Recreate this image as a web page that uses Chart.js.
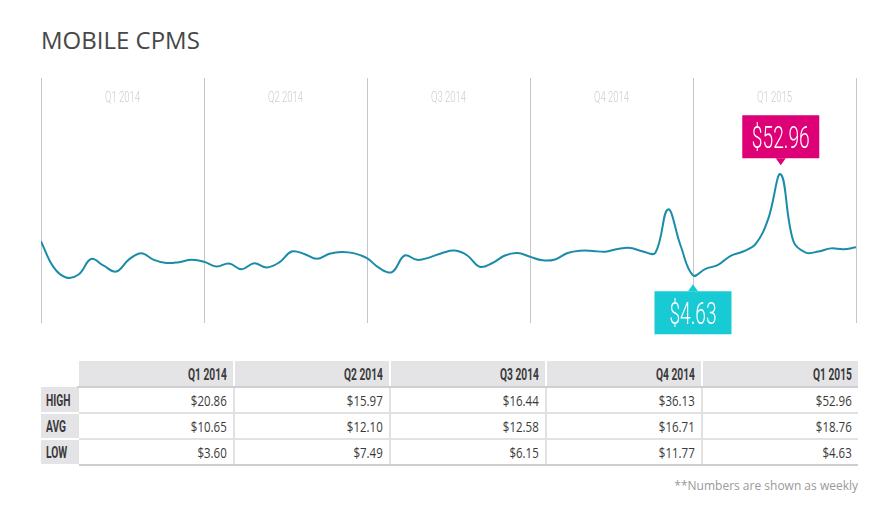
<!DOCTYPE html>
<html>
<head>
<meta charset="utf-8">
<script src="https://cdn.jsdelivr.net/npm/chart.js@4"></script>
<style>
  html, body { margin:0; padding:0; background:#fff; }
  body { width:894px; height:512px; position:relative; overflow:hidden; font-family:"Open Sans", sans-serif; }
  #title { position:absolute; left:41px; top:28px; font-size:24px; line-height:24px; color:#474747; font-family:"Open Sans", sans-serif; }
  #wrap { position:absolute; left:0; top:0; width:894px; height:345px; }
  table { position:absolute; left:41px; top:361px; border-collapse:collapse; table-layout:fixed; width:817px; }
  td, th { height:26px; padding:0; box-sizing:border-box; vertical-align:middle; }
  th.q { background:#e4e4e6; text-align:right; padding-right:6px; border-left:2px solid #fff; border-bottom:2px solid #cfcfd1; }
  th.q span { display:inline-block; font-family:Roboto, sans-serif; font-weight:700; font-size:16px; color:#3a3a3a; transform:scaleX(0.64); transform-origin:right center; }
  th.r { background:#e4e4e6; text-align:left; padding-left:5px; border-bottom:2px solid #fff; }
  th.r span { display:inline-block; font-family:Roboto, sans-serif; font-weight:700; font-size:16px; color:#3a3a3a; transform:scaleX(0.64); transform-origin:left center; }
  td.v { text-align:right; padding-right:6px; border-left:2px solid #e2e2e2; border-bottom:2px solid #e2e2e2; }
  td.v span { display:inline-block; font-family:"Open Sans", sans-serif; font-size:14px; color:#3a3a3a; transform:scaleX(0.82); transform-origin:right center; }
  tr.last td.v { border-bottom:2px solid #cfcfcf; }
  #note { position:absolute; right:36px; top:480px; font-size:12px; line-height:12px; color:#9a9a9a; font-family:"Open Sans", sans-serif; }
</style>
</head>
<body>
<div id="title">MOBILE CPMS</div>
<div id="wrap"><canvas id="c"></canvas></div>
<table id="tbl"></table>
<div id="note">**Numbers are shown as weekly</div>
<script>
// ---- data ----
const quarterLabels = ["Q1 2014", "Q2 2014", "Q3 2014", "Q4 2014", "Q1 2015"];
const rowLabels = ["HIGH", "AVG", "LOW"];
const highValues = [20.86, 15.97, 16.44, 36.13, 52.96];
const avgValues  = [10.65, 12.10, 12.58, 16.71, 18.76];
const lowValues  = [3.60, 7.49, 6.15, 11.77, 4.63];
const weeksPerQuarter = 13;
// weekly CPM values (week 0 .. 65)
const weeklyCPM = [
  20.86, 8.5, 3.60, 5.0, 12.4, 9.2, 6.4, 12.1, 15.2, 12.0, 10.5, 10.9, 12.0,
  11.1, 8.8, 10.3, 7.49, 10.4, 8.4, 10.8, 15.97, 14.8, 12.5, 14.9, 15.8, 15.1,
  12.8, 8.0, 6.15, 14.1, 12.0, 13.2, 15.3, 16.44, 14.1, 8.7, 10.5, 14.1, 15.3,
  13.5, 11.77, 12.2, 15.3, 16.4, 16.3, 15.9, 17.2, 17.7, 16.0, 15.45, 36.13, 19.0,
  4.63, 7.7, 9.6, 13.9, 16.0, 19.6, 31.6, 52.96, 21.0, 15.5, 16.0, 17.5, 17.1,
  18.0
];
const weeks = weeklyCPM.map((v, i) => i);

// ---- table ----
(function buildTable(){
  const t = document.getElementById('tbl');
  let html = '<colgroup><col style="width:37px">' + quarterLabels.map(() => '<col style="width:156px">').join('') + '</colgroup>';
  html += '<tr><td></td>' + quarterLabels.map(q => '<th class="q"><span>' + q + '</span></th>').join('') + '</tr>';
  const rows = [highValues, avgValues, lowValues];
  rows.forEach((vals, r) => {
    html += '<tr' + (r === rows.length - 1 ? ' class="last"' : '') + '><th class="r"><span>' + rowLabels[r] + '</span></th>' +
      vals.map(v => '<td class="v"><span>$' + v.toFixed(2) + '</span></td>').join('') + '</tr>';
  });
  t.innerHTML = html;
})();

// ---- chart ----
const lastQ = quarterLabels.length - 1;
const peakIdx = weeklyCPM.indexOf(highValues[lastQ]);
const lowIdx = weeklyCPM.indexOf(lowValues[lastQ]);

function callout(ctx, x, py, above, color, text) {
  const w = 77, h = 43, ph = 7, pw = 5, gap = 9;
  ctx.save();
  ctx.fillStyle = color;
  let top, tip, base;
  if (above) { tip = py - gap; base = tip - ph; top = base - h; }
  else { tip = py + gap; base = tip + ph; top = base; }
  ctx.fillRect(x - w / 2, top, w, h);
  ctx.beginPath();
  ctx.moveTo(x - pw, base); ctx.lineTo(x, tip); ctx.lineTo(x + pw, base); ctx.closePath();
  ctx.fill();
  ctx.fillStyle = '#ffffff';
  ctx.font = '300 31px Roboto';
  ctx.textAlign = 'center';
  ctx.textBaseline = 'alphabetic';
  ctx.translate(x, top + h / 2 + 11);
  ctx.scale(0.62, 1);
  ctx.fillText(text, 0, 0);
  ctx.restore();
}

const overlay = {
  id: 'overlay',
  afterDraw(chart) {
    const ctx = chart.ctx, xs = chart.scales.x, ys = chart.scales.y, area = chart.chartArea;
    ctx.save();
    ctx.fillStyle = '#cdcdcd';
    ctx.font = '300 15px Roboto';
    ctx.textAlign = 'center';
    quarterLabels.forEach((q, i) => {
      const cx = xs.getPixelForValue((i + 0.5) * weeksPerQuarter);
      ctx.save();
      ctx.translate(cx, area.top + 24);
      ctx.scale(0.63, 1);
      ctx.fillText(q, 0, 0);
      ctx.restore();
    });
    ctx.restore();
    callout(ctx, xs.getPixelForValue(peakIdx), ys.getPixelForValue(weeklyCPM[peakIdx]), true, '#de0077', '$' + highValues[lastQ].toFixed(2));
    callout(ctx, xs.getPixelForValue(lowIdx), ys.getPixelForValue(weeklyCPM[lowIdx]), false, '#17cad3', '$' + lowValues[lastQ].toFixed(2));
  }
};

new Chart(document.getElementById('c'), {
  type: 'line',
  data: {
    labels: weeks,
    datasets: [{
      data: weeklyCPM.map((v, i) => ({ x: i, y: v })),
      borderColor: '#1a8caa',
      borderWidth: 2,
      pointRadius: 0,
      fill: false,
      tension: 0.4
    }]
  },
  options: {
    responsive: true,
    maintainAspectRatio: false,
    animation: false,
    layout: { padding: { left: 41, right: 38, top: 78, bottom: 22 } },
    plugins: { legend: { display: false }, tooltip: { enabled: false } },
    scales: {
      x: {
        type: 'linear', min: 0, max: weeklyCPM.length - 1,
        afterBuildTicks: s => { s.ticks = quarterLabels.concat(['']).map((q, i) => ({ value: i * weeksPerQuarter })); },
        ticks: { display: false },
        grid: { color: '#c6c6c6', lineWidth: 1, drawTicks: false },
        border: { display: false }
      },
      y: { display: false, min: -18.2, max: 99 }
    }
  },
  plugins: [overlay]
});
</script>
</body>
</html>
